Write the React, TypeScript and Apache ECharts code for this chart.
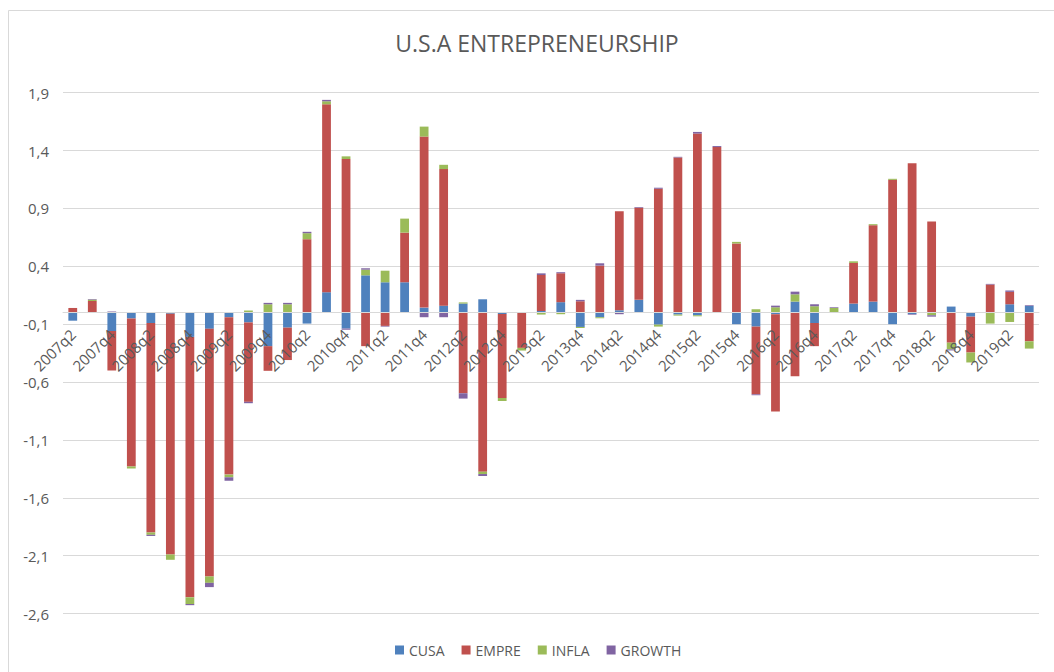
import React, { useEffect, useRef } from "react";
import * as echarts from "echarts";

const categories = [
  "2007q2", "2007q3", "2007q4", "2008q1", "2008q2", "2008q3", "2008q4", "2009q1", "2009q2", "2009q3",
  "2009q4", "2010q1", "2010q2", "2010q3", "2010q4", "2011q1", "2011q2", "2011q3", "2011q4", "2012q1",
  "2012q2", "2012q3", "2012q4", "2013q1", "2013q2", "2013q3", "2013q4", "2014q1", "2014q2", "2014q3",
  "2014q4", "2015q1", "2015q2", "2015q3", "2015q4", "2016q1", "2016q2", "2016q3", "2016q4", "2017q1",
  "2017q2", "2017q3", "2017q4", "2018q1", "2018q2", "2018q3", "2018q4", "2019q1", "2019q2", "2019q3",
];

const cusa = [
  -0.07, 0, -0.16, -0.05, -0.09, -0.01, -0.21, -0.14, -0.04, -0.085,
  -0.29, -0.13, -0.095, 0.176, -0.138, 0.322, 0.262, 0.262, 0.043, 0.06,
  0.078, 0.115, -0.012, 0, 0.014, 0.09, -0.124, -0.04, 0.02, 0.11,
  -0.104, -0.017, -0.023, 0, -0.1, -0.121, -0.014, 0.095, -0.09, 0,
  0.078, 0.095, -0.1, -0.012, 0, 0.052, -0.035, 0, 0.072, 0.058,
];

const empre = [
  0.04, 0.1, -0.34, -1.28, -1.81, -2.08, -2.25, -2.14, -1.36, -0.686,
  -0.213, -0.28, 0.634, 1.624, 1.327, -0.29, -0.115, 0.429, 1.478, 1.18,
  -0.697, -1.375, -0.726, -0.305, 0.311, 0.25, 0.098, 0.406, 0.856, 0.795,
  1.07, 1.34, 1.547, 1.43, 0.597, -0.585, -0.84, -0.55, -0.2, 0,
  0.351, 0.66, 1.147, 1.29, 0.787, -0.26, -0.31, 0.242, 0.107, -0.248,
];

const infla = [
  0, 0.012, 0, -0.017, -0.02, -0.046, -0.058, -0.055, -0.023, 0.018,
  0.072, 0.072, 0.052, 0.026, 0.023, 0.049, 0.1, 0.121, 0.086, 0.037,
  0.01, -0.02, -0.026, -0.023, -0.017, -0.014, -0.009, -0.009, 0, 0,
  -0.017, -0.009, -0.009, 0, 0.014, 0.029, 0.046, 0.063, 0.055, 0.04,
  0.014, 0.009, 0.009, 0, -0.023, -0.058, -0.086, -0.095, -0.081, -0.063,
];

const growth = [
  0, 0.005, 0.01, 0, -0.01, 0, -0.01, -0.037, -0.03, -0.012,
  0.012, 0.012, 0.012, 0.012, -0.01, 0.012, -0.006, 0, -0.04, -0.04,
  -0.046, -0.017, 0, 0, 0.014, 0.009, 0.012, 0.02, -0.014, 0.006,
  0.009, 0.006, 0.014, 0.009, 0, -0.008, 0.014, 0.023, 0.017, 0.006,
  0, 0, 0, -0.006, -0.012, -0.009, 0, 0.006, 0.012, 0.006,
];

const seriesNames = ["CUSA", "EMPRE", "INFLA", "GROWTH"];
const seriesColors = ["#4F81BD", "#C0504D", "#9BBB59", "#8064A2"];

const yMin = -2.6;
const yMax = 1.9;

export default function App() {
  const ref = useRef<HTMLDivElement>(null);

  useEffect(() => {
    document.body.style.margin = "0";
    if (!ref.current) return;
    const chart = echarts.init(ref.current, undefined, { renderer: "svg" });
    const font = "Open Sans";
    const dataSets = [cusa, empre, infla, growth];
    const gridTop = 92.7;
    const gridBottom = 58.5;
    const gridHeight = 672 - gridTop - gridBottom;
    // shift the category axis from the bottom of the grid up to the zero line
    const zeroOffset = -((0 - yMin) / (yMax - yMin)) * gridHeight;
    chart.setOption({
      animation: false,
      backgroundColor: "#ffffff",
      textStyle: { fontFamily: font },
      title: {
        text: "U.S.A ENTREPRENEURSHIP",
        left: 532,
        top: 26,
        textAlign: "center",
        textStyle: { fontFamily: font, fontSize: 23, fontWeight: "normal", color: "#595959" },
      },
      graphic: [
        {
          type: "rect",
          shape: { x: 8.5, y: 10.5, width: 1100, height: 700 },
          style: { fill: "none", stroke: "#d9d9d9", lineWidth: 1 },
          silent: true,
        },
      ],
      legend: {
        data: seriesNames,
        left: 390,
        top: 638,
        icon: "rect",
        itemWidth: 9,
        itemHeight: 9,
        itemGap: 17,
        textStyle: { fontFamily: font, fontSize: 14, color: "#595959" },
      },
      grid: { left: 63, right: 15, top: gridTop, bottom: gridBottom, containLabel: false },
      xAxis: {
        type: "category",
        data: categories,
        offset: zeroOffset,
        z: 10,
        axisLine: { onZero: false, lineStyle: { color: "#d9d9d9", width: 1 } },
        axisTick: { show: false },
        axisLabel: {
          interval: 1,
          rotate: 45,
          margin: 19,
          color: "#595959",
          fontFamily: font,
          fontSize: 15,
        },
        splitLine: { show: false },
      },
      yAxis: {
        type: "value",
        min: yMin,
        max: yMax,
        interval: 0.5,
        axisLine: { show: false },
        axisTick: { show: false },
        axisLabel: {
          margin: 14,
          color: "#595959",
          fontFamily: font,
          fontSize: 15,
          formatter: (v: number) => v.toFixed(1).replace(".", ","),
        },
        splitLine: { lineStyle: { color: "#d9d9d9", width: 1 } },
      },
      series: seriesNames.map((name, i) => ({
        name,
        type: "bar",
        stack: "total",
        barWidth: "45%",
        itemStyle: { color: seriesColors[i] },
        data: dataSets[i],
      })),
    });
    return () => chart.dispose();
  }, []);

  return <div ref={ref} style={{ width: 1054, height: 672 }} />;
}
